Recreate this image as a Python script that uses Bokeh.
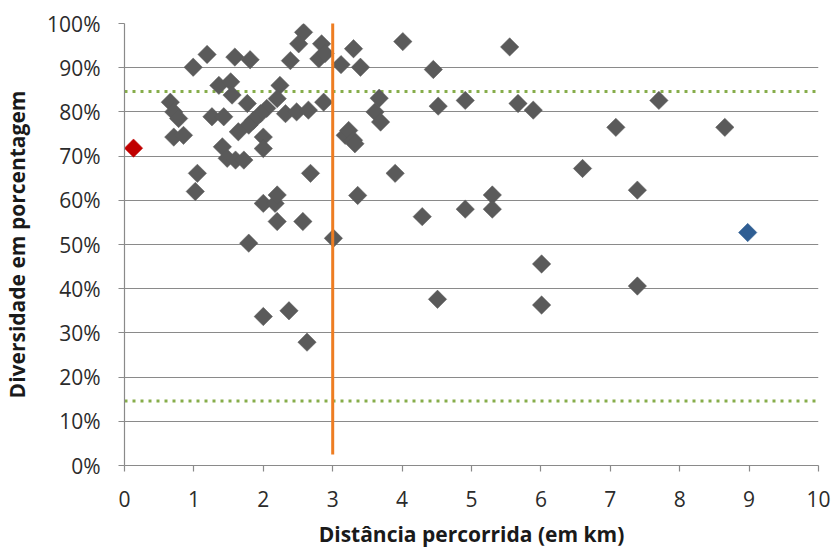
import numpy as np
from bokeh.plotting import figure
from bokeh.models import ColumnDataSource, FixedTicker, PrintfTickFormatter, Range1d
from bokeh.embed import file_html
from bokeh.resources import INLINE

# ---- data ----
dist_gray = [0.99, 1.19, 1.59, 1.81, 2.58, 2.51, 2.39, 2.84, 2.80, 2.89, 3.12, 3.30, 3.40,
             4.01, 4.45, 5.55, 1.36, 1.53, 1.55, 2.24, 2.20, 0.66, 0.71, 0.78, 1.77, 2.05,
             1.96, 2.32, 2.48, 2.65, 2.87, 1.26, 1.43, 1.86, 1.79, 1.64, 0.71, 0.85, 2.00,
             2.00, 1.41, 1.48, 1.60, 1.72, 3.18, 3.23, 3.30, 3.32, 1.05, 1.02, 2.68, 2.00,
             2.17, 2.20, 2.20, 2.57, 1.79, 3.01, 2.00, 2.37, 2.63, 3.36, 3.67, 3.61, 3.69,
             4.52, 4.91, 5.67, 5.89, 3.90, 4.29, 4.91, 5.30, 5.30, 6.01, 6.01, 4.51, 6.60,
             7.70, 7.08, 8.65, 7.39, 7.39]
div_gray = [90.1, 93.0, 92.4, 91.8, 98.0, 95.4, 91.6, 95.4, 92.0, 93.2, 90.7, 94.3, 90.1,
            95.9, 89.6, 94.7, 86.0, 86.8, 83.8, 86.0, 83.0, 82.2, 80.0, 78.5, 81.9, 80.8,
            79.6, 79.6, 80.0, 80.4, 82.2, 78.9, 78.9, 78.1, 77.0, 75.5, 74.3, 74.7, 74.3,
            71.7, 72.1, 69.5, 69.1, 69.1, 74.7, 75.8, 73.6, 72.8, 66.1, 62.0, 66.1, 59.3,
            59.3, 61.2, 55.2, 55.2, 50.3, 51.4, 33.7, 35.0, 27.9, 61.1, 83.1, 80.0, 77.7,
            81.3, 82.6, 81.9, 80.4, 66.1, 56.3, 58.0, 61.2, 58.0, 45.6, 36.3, 37.6, 67.2,
            82.6, 76.5, 76.5, 62.3, 40.6]
dist_red = [0.13]
div_red = [71.8]
dist_blue = [8.98]
div_blue = [52.7]
ref_dist = [3.0, 3.0]
ref_div = [2.5, 101.5]
limit_dist = [0.0, 10.0]
upper_limit = [84.6, 84.6]
lower_limit = [14.6, 14.6]
x_ticks = [0, 1, 2, 3, 4, 5, 6, 7, 8, 9, 10]
y_ticks = [0, 10, 20, 30, 40, 50, 60, 70, 80, 90, 100]

FONT = "Open Sans"
GRID = "#8a8a8a"

p = figure(width=832, height=550, output_backend="svg", toolbar_location=None,
           x_range=Range1d(0, 10), y_range=Range1d(0, 100),
           min_border_left=124, min_border_right=14, min_border_top=23, min_border_bottom=84)
p.outline_line_color = None
p.background_fill_color = "white"
p.border_fill_color = "white"

p.xgrid.grid_line_color = None
p.ygrid.grid_line_color = GRID
p.ygrid.grid_line_width = 1.2
p.ygrid.ticker = FixedTicker(ticks=y_ticks)

for ax in (p.xaxis[0], p.yaxis[0]):
    ax.axis_line_color = GRID
    ax.axis_line_width = 1.2
    ax.major_tick_line_color = GRID
    ax.major_tick_line_width = 1.2
    ax.major_tick_in = 0
    ax.major_tick_out = 6
    ax.minor_tick_line_color = None
    ax.major_label_text_font = FONT
    ax.major_label_text_font_size = "21px"
    ax.major_label_text_color = "#2b2b2b"
    ax.axis_label_text_font = FONT
    ax.axis_label_text_font_size = "21px"
    ax.axis_label_text_font_style = "bold"
    ax.axis_label_text_color = "#1a1a1a"

p.xaxis.ticker = FixedTicker(ticks=x_ticks)
p.yaxis.ticker = FixedTicker(ticks=y_ticks)
p.yaxis.formatter = PrintfTickFormatter(format="%d%%")
p.xaxis.axis_label = "Distância percorrida (em km)"
p.yaxis.axis_label = "Diversidade em porcentagem"
p.yaxis.major_label_standoff = 18
p.yaxis.axis_label_standoff = 13
p.xaxis.major_label_standoff = 19
p.xaxis.axis_label_standoff = 10

# threshold lines
p.line(limit_dist, upper_limit, line_color="#86AD4A", line_width=3, line_dash="3 5")
p.line(limit_dist, lower_limit, line_color="#86AD4A", line_width=3, line_dash="3 5")

# points
gray = ColumnDataSource(dict(x=dist_gray, y=div_gray))
p.scatter("x", "y", source=gray, marker="square", size=13, angle=np.pi / 4,
          fill_color="#5a5a5a", line_color="#5a5a5a", line_width=0.5)
p.scatter(dist_red, div_red, marker="square", size=13, angle=np.pi / 4,
          fill_color="#C00000", line_color="#C00000", line_width=0.5)
p.scatter(dist_blue, div_blue, marker="square", size=13, angle=np.pi / 4,
          fill_color="#2F5E93", line_color="#2F5E93", line_width=0.5)

# reference vertical line
p.line(ref_dist, ref_div, line_color="#EE7D22", line_width=3)

open("out.html", "w").write(file_html(p, INLINE))
